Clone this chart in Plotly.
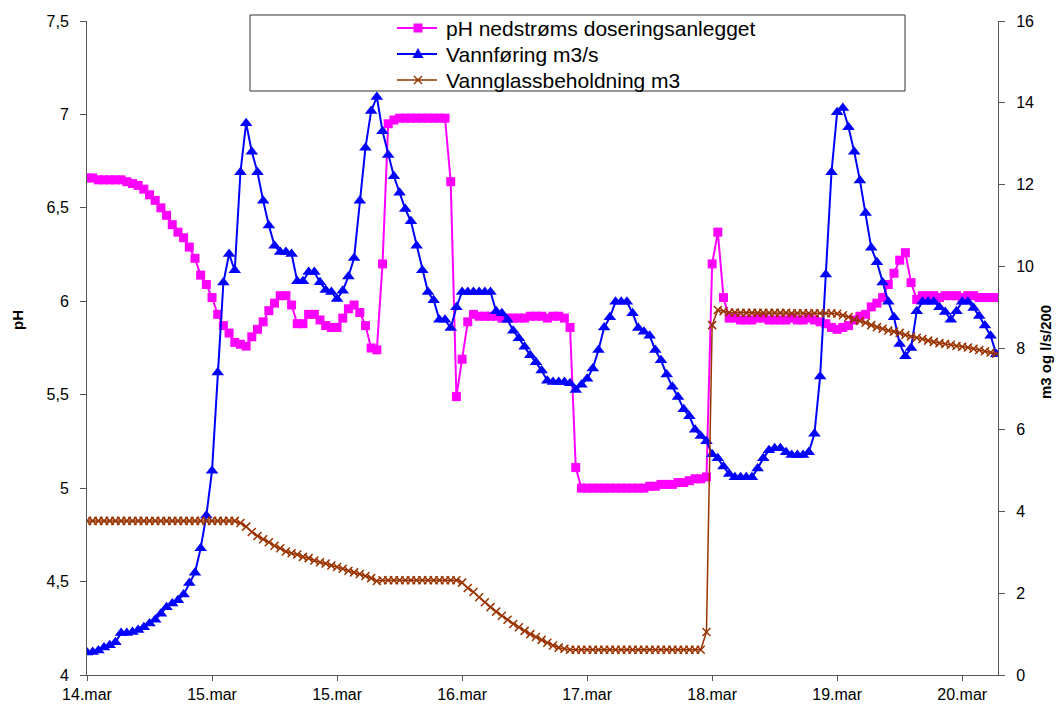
import plotly.graph_objects as go

tick_labels = ["14.mar", "15.mar", "15.mar", "16.mar", "17.mar", "18.mar", "19.mar", "20.mar"]
tick_step = 22

series_names = ["pH nedstrøms doseringsanlegget", "Vannføring m3/s", "Vannglassbeholdning m3"]

ph = [6.66, 6.66, 6.65, 6.65, 6.65, 6.65, 6.65,
      6.64, 6.63, 6.62, 6.6, 6.57, 6.54, 6.5, 6.46, 6.41, 6.37, 6.34, 6.29, 6.23, 6.14, 6.09, 6.02,
      5.93, 5.87, 5.83, 5.78, 5.77, 5.76, 5.81, 5.85, 5.89, 5.95, 5.99, 6.03, 6.03,
      5.98, 5.88, 5.88, 5.93, 5.93, 5.9, 5.87, 5.86, 5.86, 5.91, 5.96, 5.98, 5.94, 5.87, 5.75, 5.74,
      6.2, 6.95, 6.97, 6.98, 6.98, 6.98, 6.98, 6.98, 6.98, 6.98, 6.98, 6.98,
      6.64, 5.49, 5.69, 5.89, 5.93, 5.92, 5.92,
      5.92, 5.92, 5.91, 5.91, 5.91, 5.91, 5.91, 5.92, 5.92, 5.92, 5.91, 5.92, 5.92, 5.91,
      5.86, 5.11, 5.0, 5.0, 5.0, 5.0, 5.0, 5.0, 5.0, 5.0, 5.0, 5.0, 5.0,
      5.0, 5.01, 5.01, 5.02, 5.02, 5.02, 5.03, 5.03, 5.04, 5.05, 5.05, 5.06,
      6.2, 6.37, 6.02, 5.91,
      5.91, 5.9, 5.9, 5.9, 5.91, 5.91, 5.9, 5.9, 5.9, 5.9, 5.91, 5.9, 5.9, 5.91, 5.9, 5.89,
      5.88, 5.86, 5.85, 5.86, 5.87, 5.9, 5.92, 5.93, 5.97, 5.99, 6.02, 6.09, 6.15, 6.22, 6.26, 6.1, 6.01,
      6.03, 6.03, 6.03, 6.02, 6.03, 6.03, 6.03, 6.02, 6.03, 6.03, 6.02, 6.02, 6.02, 6.02]

vannforing = [0.55, 0.56, 0.6, 0.67, 0.73, 0.8, 1.03, 1.03, 1.05, 1.1, 1.17, 1.26, 1.35, 1.5, 1.66, 1.75,
              1.83, 1.97, 2.25, 2.5, 3.1, 3.9, 5.0, 7.4, 9.6, 10.3, 9.9, 12.3, 13.5, 12.8, 12.3, 11.6,
              11.0, 10.5, 10.35, 10.35, 10.3, 9.63, 9.63, 9.86, 9.86, 9.61, 9.42, 9.37, 9.2, 9.4, 9.75, 10.2,
              11.6, 12.9, 13.8, 14.14, 13.3, 12.72, 12.2, 11.8, 11.4, 11.1, 10.5, 9.9, 9.37, 9.17, 8.69, 8.69,
              8.49, 9.0, 9.37, 9.37, 9.37, 9.37, 9.37, 9.37, 8.9, 8.85, 8.69, 8.42, 8.24, 8.03, 7.82, 7.65,
              7.45, 7.2, 7.17, 7.17, 7.17, 7.14, 6.97, 7.1, 7.25, 7.5, 7.95, 8.5, 8.75, 9.13, 9.13, 9.13,
              8.85, 8.49, 8.4, 8.3, 7.95, 7.7, 7.35, 7.05, 6.8, 6.5, 6.33, 6.0, 5.85, 5.72, 5.4, 5.3,
              5.1, 4.92, 4.84, 4.84, 4.84, 4.84, 5.05, 5.3, 5.5, 5.55, 5.55, 5.45, 5.38, 5.38, 5.38, 5.45,
              5.9, 7.3, 9.8, 12.3, 13.77, 13.87, 13.4, 12.8, 12.1, 11.3, 10.45, 10.1, 9.6, 9.13, 8.75, 8.1,
              7.8, 8.0, 8.9, 9.13, 9.13, 9.13, 9.0, 8.88, 8.69, 8.9, 9.13, 9.13, 8.98, 8.78, 8.55, 8.3,
              7.85]

vannglass = [3.77, 3.77, 3.77, 3.77, 3.77, 3.77, 3.77, 3.77, 3.77, 3.77, 3.77, 3.77, 3.77, 3.77,
             3.77, 3.77, 3.77, 3.77, 3.77, 3.77, 3.77, 3.77, 3.77, 3.77, 3.77, 3.77, 3.77,
             3.72, 3.63, 3.5, 3.4, 3.32, 3.25, 3.16, 3.1, 3.02, 2.98, 2.95, 2.89, 2.86, 2.8, 2.76, 2.73,
             2.68, 2.64, 2.6, 2.55, 2.51, 2.47, 2.42, 2.37, 2.3, 2.32,
             2.32, 2.32, 2.32, 2.32, 2.32, 2.32, 2.32, 2.32, 2.32, 2.32, 2.32, 2.32, 2.32,
             2.26, 2.13, 2.03, 1.9, 1.78, 1.66, 1.55, 1.45, 1.35, 1.25, 1.17, 1.08, 1.0, 0.93, 0.86,
             0.79, 0.72, 0.67, 0.64,
             0.62, 0.62, 0.62, 0.62, 0.62, 0.62, 0.62, 0.62, 0.62, 0.62, 0.62, 0.62, 0.62, 0.62, 0.62,
             0.62, 0.62, 0.62, 0.62, 0.62, 0.62, 0.62, 0.62, 0.62,
             1.05, 8.56, 8.93, 8.9,
             8.87, 8.87, 8.86, 8.86, 8.86, 8.86, 8.86, 8.86, 8.86, 8.86, 8.86, 8.85, 8.85, 8.85, 8.85,
             8.85, 8.85, 8.85, 8.85,
             8.84, 8.8, 8.76, 8.7, 8.66, 8.62, 8.56, 8.51, 8.47, 8.43, 8.4, 8.37, 8.32, 8.28, 8.25, 8.22,
             8.18, 8.15, 8.12, 8.1, 8.08, 8.05, 8.03, 8.01, 7.98, 7.95, 7.92, 7.89, 7.86]

x_ph = list(range(len(ph)))
x_v = list(range(len(vannforing)))
x_g = list(range(len(vannglass)))

PINK = "#FF00FF"
BLUE = "#0000FF"
BROWN = "#993300"
AX = "#555555"
FONT = "Liberation Sans, Arial, sans-serif"
colors = [PINK, BLUE, BROWN]

# The page body has an 8px margin; the figure is sized so the plot lands
# at viewport x 87..998, y 21..675.
BODY = 8
W, H = 1063 - BODY, 706 - BODY
PL, PT, PR, PB = 87, 21, 998, 675   # plot area in viewport pixels
PW, PH = PR - PL, PB - PT


def px(vx):
    return (vx - PL) / PW


def py(vy):
    return (PB - vy) / PH


fig = go.Figure()
fig.add_trace(go.Scatter(
    x=x_ph, y=ph, name=series_names[0], mode="lines+markers",
    line=dict(color=PINK, width=2),
    marker=dict(symbol="square", size=9, color=PINK),
))
fig.add_trace(go.Scatter(
    x=x_v, y=vannforing, name=series_names[1], mode="lines+markers", yaxis="y2",
    line=dict(color=BLUE, width=2),
    marker=dict(symbol="triangle-up", size=11, color=BLUE),
))
fig.add_trace(go.Scatter(
    x=x_g, y=vannglass, name=series_names[2], mode="lines+markers", yaxis="y2",
    line=dict(color=BROWN, width=1.5),
    marker=dict(symbol="x-thin", size=8, color=BROWN, line=dict(color=BROWN, width=1.5)),
))

# Legend drawn as a framed box (Excel style): line + marker sample + label
rows = [28, 54, 80]
LX0, LX1, MX, TX = 397, 437, 418, 444
shapes = [dict(
    type="rect", xref="paper", yref="paper",
    x0=px(250), x1=px(905), y0=py(91), y1=py(15),
    line=dict(color="#333333", width=1), fillcolor="white", layer="below",
)]
annotations = []
for name, col, r in zip(series_names, colors, rows):
    shapes.append(dict(type="line", xref="paper", yref="paper",
                       x0=px(LX0), x1=px(LX1), y0=py(r), y1=py(r),
                       line=dict(color=col, width=2 if col != BROWN else 1.5)))
    annotations.append(dict(text=name, xref="paper", yref="paper", x=px(TX), y=py(r),
                            xanchor="left", yanchor="middle", showarrow=False,
                            font=dict(size=21, family=FONT, color="black")))
# marker samples
r = rows[0]
shapes.append(dict(type="rect", xref="paper", yref="paper",
                   x0=px(MX - 4.5), x1=px(MX + 4.5), y0=py(r + 4.5), y1=py(r - 4.5),
                   line=dict(width=0), fillcolor=PINK))
r = rows[1]
shapes.append(dict(type="path", xref="paper", yref="paper",
                   path=f"M {px(MX - 5.5)} {py(r + 4)} L {px(MX + 5.5)} {py(r + 4)} L {px(MX)} {py(r - 6)} Z",
                   line=dict(width=0), fillcolor=BLUE))
r = rows[2]
for a, b in [(-4, 4), (4, -4)]:
    shapes.append(dict(type="line", xref="paper", yref="paper",
                       x0=px(MX - 4), x1=px(MX + 4), y0=py(r + a), y1=py(r + b),
                       line=dict(color=BROWN, width=1.5)))

annotations += [
    dict(text="<b>pH</b>", xref="paper", yref="paper",
         x=px(17), y=py(320), textangle=-90,
         showarrow=False, font=dict(size=15), xanchor="center", yanchor="middle"),
    dict(text="<b>m3 og l/s/200</b>", xref="paper", yref="paper",
         x=px(1045), y=py(352), textangle=-90,
         showarrow=False, font=dict(size=15), xanchor="center", yanchor="middle"),
]

n_ticks = len(tick_labels)
fig.update_layout(
    width=W, height=H,
    margin=dict(l=PL - BODY, r=W - (PR - BODY), t=PT - BODY, b=H - (PB - BODY), autoexpand=False),
    paper_bgcolor="white", plot_bgcolor="white",
    separators=", ",
    font=dict(family=FONT, size=16, color="black"),
    showlegend=False,
    xaxis=dict(
        range=[0, 160.3], automargin=False,
        tickvals=[i * tick_step for i in range(n_ticks)],
        ticktext=tick_labels,
        showgrid=False, zeroline=False,
        showline=True, linecolor=AX, linewidth=1,
        ticks="outside", ticklen=5, tickcolor=AX,
        tickfont=dict(size=16),
    ),
    yaxis=dict(
        range=[4, 7.5], dtick=0.5, tick0=4, automargin=False,
        showgrid=False, zeroline=False,
        showline=True, linecolor=AX, linewidth=1,
        ticks="outside", ticklen=6, tickcolor=AX,
        tickfont=dict(size=16), ticklabelstandoff=8,
    ),
    yaxis2=dict(
        range=[0, 16], dtick=2, overlaying="y", side="right", automargin=False,
        showgrid=False, zeroline=False,
        showline=True, linecolor=AX, linewidth=1,
        ticks="outside", ticklen=6, tickcolor=AX,
        tickfont=dict(size=16), ticklabelstandoff=8,
    ),
    annotations=annotations,
    shapes=shapes,
)

fig.write_html("out.html")
